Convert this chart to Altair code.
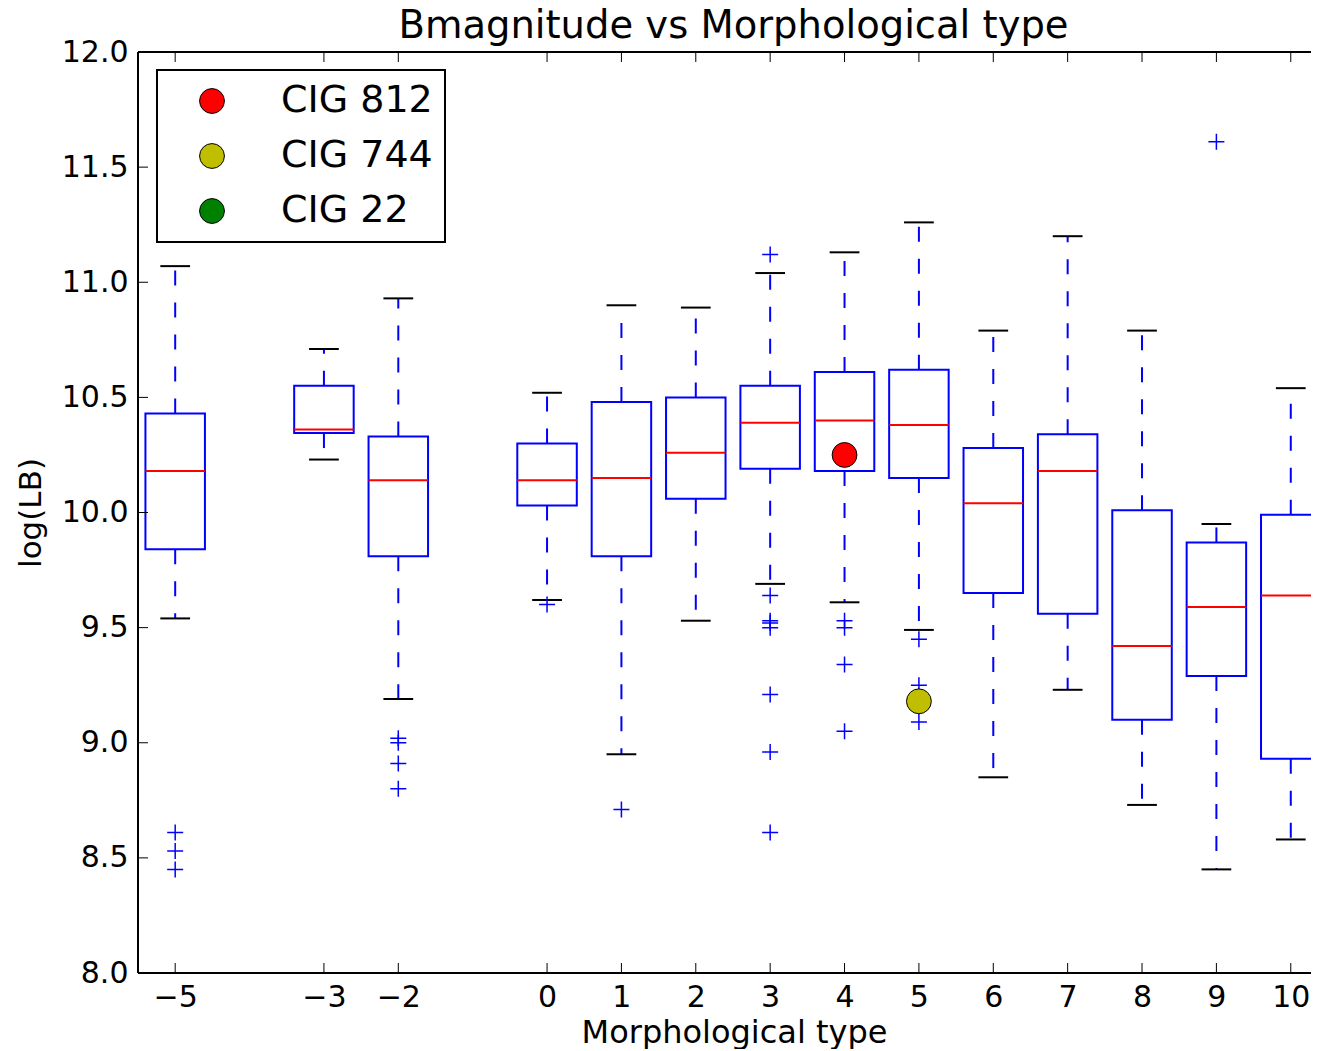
import altair as alt
import pandas as pd

# ---- data ----
types = [-5, -3, -2, 0, 1, 2, 3, 4, 5, 6, 7, 8, 9, 10]
whisker_low = [9.54, 10.23, 9.19, 9.62, 8.95, 9.53, 9.69, 9.61, 9.49, 8.85, 9.23, 8.73, 8.45, 8.58]
q1 = [9.84, 10.345, 9.81, 10.03, 9.81, 10.06, 10.19, 10.18, 10.15, 9.65, 9.56, 9.10, 9.29, 8.93]
median = [10.18, 10.36, 10.14, 10.14, 10.15, 10.26, 10.39, 10.40, 10.38, 10.04, 10.18, 9.42, 9.59, 9.64]
q3 = [10.43, 10.55, 10.33, 10.30, 10.48, 10.50, 10.55, 10.61, 10.62, 10.28, 10.34, 10.01, 9.87, 9.99]
whisker_high = [11.07, 10.71, 10.93, 10.52, 10.90, 10.89, 11.04, 11.13, 11.26, 10.79, 11.20, 10.79, 9.95, 10.54]

outlier_type = [-5, -5, -5, -2, -2, -2, -2, 0, 1, 3, 3, 3, 3, 3, 3, 3, 3, 4, 4, 4, 4, 5, 5, 5, 9]
outlier_value = [8.61, 8.53, 8.45, 9.02, 9.00, 8.91, 8.80, 9.60, 8.71,
                 11.12, 9.64, 9.53, 9.52, 9.50, 9.21, 8.96, 8.61,
                 9.53, 9.50, 9.34, 9.05, 9.45, 9.25, 9.09, 11.61]

galaxy_names = ["CIG 812", "CIG 744", "CIG 22"]
galaxy_colors = ["#ff0000", "#bfbf00", "#008000"]
galaxy_plotted = ["CIG 812", "CIG 744"]
galaxy_type = [4, 5]
galaxy_value = [10.25, 9.18]

x_ticks = [-5, -3, -2, 0, 1, 2, 3, 4, 5, 6, 7, 8, 9, 10]
y_ticks = [8.0, 8.5, 9.0, 9.5, 10.0, 10.5, 11.0, 11.5, 12.0]

TITLE = "Bmagnitude vs Morphological type"
X_TITLE = "Morphological type"
Y_TITLE = "log(LB)"

# ---- layout ----
W, H = 1173, 921
X_DOMAIN = [-5.5, 10.272]   # right part of the axes is cropped, as in the reference
FONT = "DejaVu Sans"
BLUE, RED, BLACK = "#0000ff", "#ff0000", "#000000"
TICK = 10

box_df = pd.DataFrame({"t": types, "lo": whisker_low, "q1": q1, "med": median,
                       "q3": q3, "hi": whisker_high})
out_df = pd.DataFrame({"t": outlier_type, "v": outlier_value})
gal_df = pd.DataFrame({"name": galaxy_plotted, "t": galaxy_type, "v": galaxy_value})
xt_df = pd.DataFrame({"v": x_ticks})
yt_df = pd.DataFrame({"v": y_ticks})
one_df = pd.DataFrame({"k": [0]})

xscale = alt.Scale(domain=X_DOMAIN, nice=False, zero=False)
yscale = alt.Scale(domain=[8, 12], nice=False, zero=False)
xaxis = alt.Axis(values=x_ticks, format="d", domain=False, ticks=False, tickSize=0,
                 grid=False, labelFontSize=30, labelPadding=9, labelFont=FONT,
                 labelColor=BLACK, labelFlush=False, labelOverlap=False,
                 titleFontSize=32, titleFont=FONT, titleColor=BLACK,
                 titleFontWeight="normal", titlePadding=5, titleX=596,
                 titleAlign="center")
yaxis = alt.Axis(values=y_ticks, format=".1f", domain=False, ticks=False, tickSize=0,
                 grid=False, labelFontSize=30, labelPadding=10, labelFont=FONT,
                 labelColor=BLACK, labelFlush=False, labelOverlap=False,
                 titleFontSize=31, titleFont=FONT, titleColor=BLACK,
                 titleFontWeight="normal", titlePadding=14)


def X(field):
    return alt.X(field, type="quantitative", scale=xscale, axis=xaxis, title=X_TITLE)


def Y(field):
    return alt.Y(field, type="quantitative", scale=yscale, axis=yaxis, title=Y_TITLE)


base = alt.Chart(box_df).transform_calculate(
    bl="datum.t - 0.4", br="datum.t + 0.4", cl="datum.t - 0.2", cr="datum.t + 0.2"
)

whisk_up = base.mark_rule(color=BLUE, strokeWidth=2, strokeDash=[15, 17], clip=True).encode(
    x=X("t"), y=Y("q3"), y2="hi")
whisk_dn = base.mark_rule(color=BLUE, strokeWidth=2, strokeDash=[15, 17], clip=True).encode(
    x=X("t"), y=Y("q1"), y2="lo")
cap_hi = base.mark_rule(color=BLACK, strokeWidth=2, clip=True).encode(
    x=X("cl"), x2="cr", y=Y("hi"))
cap_lo = base.mark_rule(color=BLACK, strokeWidth=2, clip=True).encode(
    x=X("cl"), x2="cr", y=Y("lo"))
boxes = base.mark_rect(stroke=BLUE, strokeWidth=2, fillOpacity=0, clip=True).encode(
    x=X("bl"), x2="br", y=Y("q1"), y2="q3")
medians = base.mark_rule(color=RED, strokeWidth=2, clip=True).encode(
    x=X("bl"), x2="br", y=Y("med"))

outliers = alt.Chart(out_df).mark_point(
    shape="M-1,0L1,0M0,-1L0,1", size=256, stroke=BLUE, strokeWidth=1.5,
    filled=False, opacity=1, clip=True).encode(x=X("t"), y=Y("v"))

galaxies = alt.Chart(gal_df).mark_circle(size=616, stroke=BLACK, strokeWidth=1, opacity=1).encode(
    x=X("t"), y=Y("v"),
    fill=alt.Fill("name:N",
                  scale=alt.Scale(domain=galaxy_names, range=galaxy_colors),
                  sort=galaxy_names,
                  legend=alt.Legend(title=None, orient="none", legendX=19, legendY=18,
                                    direction="vertical", labelFontSize=38,
                                    labelFont=FONT, labelColor=BLACK,
                                    symbolSize=616, symbolType="circle",
                                    symbolStrokeColor=BLACK, symbolStrokeWidth=1,
                                    symbolOpacity=1, symbolOffset=24, labelOffset=50,
                                    rowPadding=17, padding=12, strokeColor=BLACK,
                                    fillColor="white")))

# inward ticks on all four sides (matplotlib classic look)
tick_b = alt.Chart(xt_df).mark_rule(color=BLACK, strokeWidth=1).encode(
    x=X("v"), y=alt.value(H), y2=alt.value(H - TICK))
tick_t = alt.Chart(xt_df).mark_rule(color=BLACK, strokeWidth=1).encode(
    x=X("v"), y=alt.value(0), y2=alt.value(TICK))
tick_l = alt.Chart(yt_df).mark_rule(color=BLACK, strokeWidth=1).encode(
    y=Y("v"), x=alt.value(0), x2=alt.value(TICK))

# frame (left, top, bottom); the right spine lies outside the cropped reference
spine_l = alt.Chart(one_df).mark_rule(color=BLACK, strokeWidth=2).encode(
    x=alt.value(0), y=alt.value(0), y2=alt.value(H))
spine_t = alt.Chart(one_df).mark_rule(color=BLACK, strokeWidth=2).encode(
    x=alt.value(0), x2=alt.value(W), y=alt.value(0))
spine_b = alt.Chart(one_df).mark_rule(color=BLACK, strokeWidth=2).encode(
    x=alt.value(0), x2=alt.value(W), y=alt.value(H))

chart = alt.layer(
    whisk_up, whisk_dn, cap_hi, cap_lo, boxes, medians, outliers, galaxies,
    tick_b, tick_t, tick_l, spine_l, spine_t, spine_b
).properties(
    width=W, height=H,
    title=alt.Title(TITLE, fontSize=38.5, font=FONT, fontWeight="normal", color=BLACK,
                    anchor="middle", baseline="alphabetic", offset=-39, dx=9),
    autosize=alt.AutoSizeParams(type="none"),
    padding={"left": 130, "top": 44, "right": 0, "bottom": 76},
).configure_view(
    strokeWidth=0
).configure_legend(
    strokeWidth=2
)

chart.save("out.html", embed_options={"renderer": "svg", "actions": False})
